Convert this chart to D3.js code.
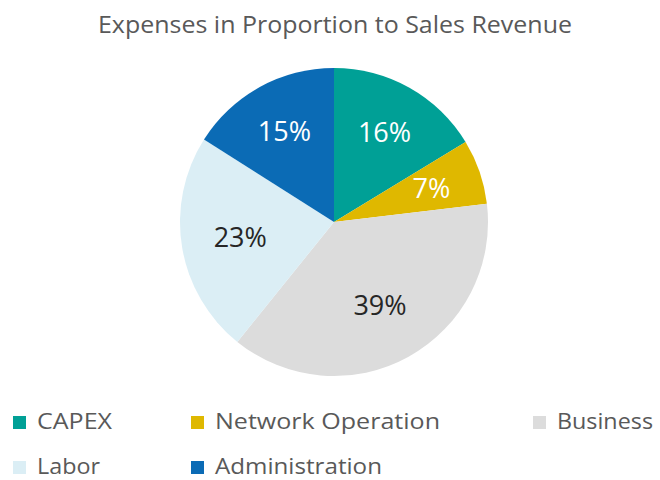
<!DOCTYPE html>
<html><head><meta charset="utf-8">
<script src="https://cdn.jsdelivr.net/npm/d3@7"></script>
<style>body{margin:0;background:#fff}svg{display:block}text{font-family:"Open Sans",sans-serif}</style>
</head><body><svg id="c" width="660" height="480"></svg>
<script>
const categories = ["CAPEX","Network Operation","Business","Labor","Administration"];
const values = [16.3,6.8,37.7,23.2,16.0];
const labels = ["16%","7%","39%","23%","15%"];
const colors = ["#00A096","#DFB800","#DCDCDC","#DBEEF5","#0B6BB5"];
const labelColors = ["#fff","#fff","#262626","#262626","#fff"];

const svg = d3.select("#c");
const cx = 334, cy = 222, R = 154;

svg.append("text").attr("x",98).attr("y",33)
  .attr("font-size",24).attr("fill","#595959")
  .attr("textLength",474).attr("lengthAdjust","spacingAndGlyphs")
  .text("Expenses in Proportion to Sales Revenue");

const pie = d3.pie().sort(null).value(d=>d)(values);
const arc = d3.arc().innerRadius(0).outerRadius(R);
const g = svg.append("g").attr("transform",`translate(${cx},${cy})`);
g.selectAll("path").data(pie).join("path").attr("d",arc).attr("fill",(d,i)=>colors[i]);

const lr = [103,103,95,95,103];
g.selectAll("text.lab").data(pie).join("text").attr("class","lab")
  .attr("transform",(d,i)=>{const a=(d.startAngle+d.endAngle)/2; return `translate(${Math.sin(a)*lr[i]},${-Math.cos(a)*lr[i]})`;})
  .attr("text-anchor","middle").attr("dy","0.36em").attr("font-size",27)
  .attr("fill",(d,i)=>labelColors[i]).text((d,i)=>labels[i]);

const legPos = [[13,416],[191,416],[533,416],[13,461],[191,461]];
const legW = [75,225,96,63,167];
const lg = svg.selectAll("g.leg").data(categories).join("g").attr("class","leg")
  .attr("transform",(d,i)=>`translate(${legPos[i][0]},${legPos[i][1]})`);
lg.append("rect").attr("width",13).attr("height",13).attr("fill",(d,i)=>colors[i]);
lg.append("text").attr("x",24).attr("y",13).attr("font-size",22).attr("fill","#595959")
  .attr("textLength",(d,i)=>legW[i]).attr("lengthAdjust","spacingAndGlyphs").text(d=>d);
</script></body></html>
